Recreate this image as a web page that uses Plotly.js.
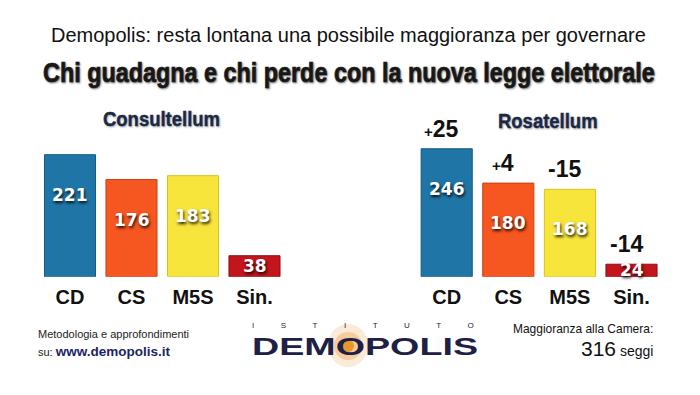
<!DOCTYPE html>
<html>
<head>
<meta charset="utf-8">
<script src="https://cdn.plot.ly/plotly-3.0.1.min.js"></script>
<style>
  html, body { margin: 0; padding: 0; background: #fff; }
  #chart { width: 700px; height: 395px; }
  text[data-unformatted="DEMOPOLIS"] { transform: scaleX(1.57); transform-box: fill-box; transform-origin: left center; }
  text[data-unformatted="ISTITUTO"] { letter-spacing: 26.5px; }
  text[data-unformatted="Chi guadagna e chi perde con la nuova legge elettorale"] {
    transform: scaleX(0.835); transform-box: fill-box; transform-origin: center center;
    stroke: #1a1a1a; stroke-width: 0.7px;
  }
  text[data-unformatted="Consultellum"], text[data-unformatted="Rosatellum"] {
    transform: scaleX(0.88); transform-box: fill-box; transform-origin: center center;
    stroke: #1b2b4b; stroke-width: 0.4px;
  }
  text[data-unformatted="Maggioranza alla Camera:"] {
    transform: scaleX(0.92); transform-box: fill-box; transform-origin: right center;
  }
</style>
</head>
<body>
<div id="chart"></div>
<script>
// ---- data ----
const categories = ['CD', 'CS', 'M5S', 'Sin.'];
const consultellum = [221, 176, 183, 38];
const rosatellum = [246, 180, 168, 24];
const deltas = [25, 4, -15, -14];
const barColors = ['#1f76a6', '#f6561f', '#f8e53c', '#c3151c'];
const lineColors = ['#15597f', '#c9400f', '#d8c21e', '#8f0d12'];

const W = 700, H = 395;
const px = v => v / W;
const py = v => 1 - v / H;

// plotting geometry
const yDom = [py(276.7), py(96)];
const plotPx = 276.7 - 96;
const leftMax = plotPx / 0.552;
const rightMax = plotPx / 0.52;

const traces = [
  {
    type: 'bar', x: categories, y: consultellum, xaxis: 'x', yaxis: 'y',
    marker: { color: barColors, line: { color: lineColors, width: 1 } },
    hoverinfo: 'skip'
  },
  {
    type: 'bar', x: categories, y: rosatellum, xaxis: 'x2', yaxis: 'y2',
    marker: { color: barColors, line: { color: lineColors, width: 1 } },
    hoverinfo: 'skip'
  }
];

const valFont = { family: 'DejaVu Sans, sans-serif', size: 17, color: '#ffffff', weight: 700,
  shadow: '1px 2px 3px rgba(0,0,0,0.85)' };

function valueAnn(xr, yr, cats, vals, ppu) {
  return vals.map((v, i) => {
    const big = v * ppu > 70;
    return {
      xref: xr, yref: yr, x: cats[i], y: big ? v : v / 2,
      yshift: big ? -40 : 0, yanchor: 'middle', xanchor: 'center',
      text: String(v), showarrow: false, font: valFont
    };
  });
}

const annotations = [];
// Titles
annotations.push({
  xref: 'paper', yref: 'paper', x: px(348), y: py(35), xanchor: 'center', yanchor: 'middle',
  text: 'Demopolis: resta lontana una possibile maggioranza per governare', showarrow: false,
  font: { family: 'Liberation Sans, Arial, sans-serif', size: 20, color: '#111' }
});
annotations.push({
  xref: 'paper', yref: 'paper', x: px(348.5), y: py(72), xanchor: 'center', yanchor: 'middle',
  text: 'Chi guadagna e chi perde con la nuova legge elettorale', showarrow: false,
  font: { family: 'Liberation Sans, Arial, sans-serif', size: 28, color: '#1a1a1a', weight: 700,
    shadow: '1px 1px 2px rgba(0,0,0,0.45)' }
});
annotations.push({
  xref: 'paper', yref: 'paper', x: px(161), y: py(118), xanchor: 'center', yanchor: 'middle',
  text: 'Consultellum', showarrow: false,
  font: { family: 'Liberation Sans, Arial, sans-serif', size: 21, color: '#1b2b4b', weight: 700,
    shadow: '1px 1px 2px rgba(0,0,0,0.3)' }
});
annotations.push({
  xref: 'paper', yref: 'paper', x: px(548), y: py(120), xanchor: 'center', yanchor: 'middle',
  text: 'Rosatellum', showarrow: false,
  font: { family: 'Liberation Sans, Arial, sans-serif', size: 21, color: '#1b2b4b', weight: 700,
    shadow: '1px 1px 2px rgba(0,0,0,0.3)' }
});
// Footer left
annotations.push({
  xref: 'paper', yref: 'paper', x: px(36), y: py(334), xanchor: 'left', yanchor: 'middle',
  text: 'Metodologia e approfondimenti', showarrow: false,
  font: { family: 'Liberation Sans, Arial, sans-serif', size: 11, color: '#222' }
});
annotations.push({
  xref: 'paper', yref: 'paper', x: px(36), y: py(351), xanchor: 'left', yanchor: 'middle',
  text: 'su: <span style="font-size:13.5px;font-weight:bold;color:#1c2466">www.demopolis.it</span>', showarrow: false,
  font: { family: 'Liberation Sans, Arial, sans-serif', size: 11, color: '#222' }
});
// Logo
annotations.push({
  xref: 'paper', yref: 'paper', x: px(250), y: py(325), xanchor: 'left', yanchor: 'middle',
  text: 'ISTITUTO', showarrow: false,
  font: { family: 'Liberation Sans, Arial, sans-serif', size: 8, color: '#1e2046' }
});
annotations.push({
  xref: 'paper', yref: 'paper', x: px(250), y: py(346), xanchor: 'left', yanchor: 'middle',
  text: 'DEMOPOLIS', showarrow: false,
  font: { family: 'Liberation Sans, Arial, sans-serif', size: 24, color: '#1e2046', weight: 700 }
});
// Footer right
annotations.push({
  xref: 'paper', yref: 'paper', x: px(655), y: py(329), xanchor: 'right', yanchor: 'middle',
  text: 'Maggioranza alla Camera:', showarrow: false,
  font: { family: 'Liberation Sans, Arial, sans-serif', size: 13, color: '#111' }
});
annotations.push({
  xref: 'paper', yref: 'paper', x: px(655), y: py(348), xanchor: 'right', yanchor: 'middle',
  text: '<span style="font-size:21px">316</span> seggi', showarrow: false,
  font: { family: 'Liberation Sans, Arial, sans-serif', size: 14, color: '#111' }
});

// value labels
annotations.push(...valueAnn('x', 'y', categories, consultellum, plotPx / leftMax));
annotations.push(...valueAnn('x2', 'y2', categories, rosatellum, plotPx / rightMax));

// delta labels
deltas.forEach((d, i) => {
  const sign = d > 0 ? '<span style="font-size:15px">+</span>' : '-';
  annotations.push({
    xref: 'x2', yref: 'y2', x: categories[i], y: rosatellum[i], xshift: -5, yshift: 20,
    xanchor: 'center', yanchor: 'middle', showarrow: false,
    text: sign + Math.abs(d),
    font: { family: 'Liberation Sans, Arial, sans-serif', size: 23, color: '#111', weight: 700 }
  });
});

const shapes = [
  { type: 'circle', xref: 'paper', yref: 'paper', layer: 'below',
    x0: px(328), x1: px(368), y0: py(367), y1: py(324),
    fillcolor: 'rgba(238,160,70,0.22)', line: { width: 0 } },
  { type: 'circle', xref: 'paper', yref: 'paper', layer: 'below',
    x0: px(334), x1: px(362), y0: py(360), y1: py(332),
    fillcolor: 'rgba(238,150,55,0.35)', line: { width: 0 } },
  { type: 'circle', xref: 'paper', yref: 'paper', layer: 'below',
    x0: px(342), x1: px(354), y0: py(352), y1: py(340),
    fillcolor: '#e8972f', line: { width: 0 } }
];

const xaxisBase = {
  type: 'category', showgrid: false, zeroline: false, showline: false, ticks: '',
  ticklabelstandoff: 6,
  tickfont: { family: 'Liberation Sans, Arial, sans-serif', size: 20, color: '#111', weight: 700 },
  fixedrange: true
};

const layout = {
  width: W, height: H, autosize: false,
  margin: { l: 0, r: 0, t: 0, b: 0, pad: 0 },
  paper_bgcolor: '#ffffff', plot_bgcolor: 'rgba(0,0,0,0)',
  showlegend: false, bargap: 0.17,
  xaxis: Object.assign({}, xaxisBase, { domain: [px(39.25), px(285.25)], anchor: 'y' }),
  yaxis: { domain: yDom, range: [0, leftMax], visible: false, anchor: 'x', fixedrange: true },
  xaxis2: Object.assign({}, xaxisBase, { domain: [px(415.9), px(662.3)], anchor: 'y2' }),
  yaxis2: { domain: yDom, range: [0, rightMax], visible: false, anchor: 'x2', fixedrange: true },
  annotations: annotations,
  shapes: shapes
};

Plotly.newPlot('chart', traces, layout, { displayModeBar: false, staticPlot: true });
</script>
</body>
</html>
